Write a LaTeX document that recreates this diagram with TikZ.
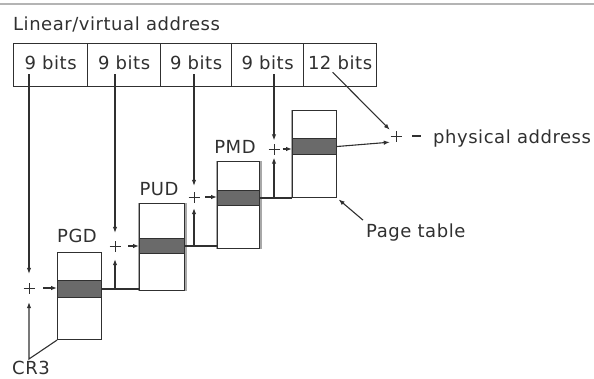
\documentclass[tikz,border=0pt]{standalone}
\usepackage{fontspec}
\setmainfont[LetterSpace=3]{DejaVu Sans}
\usetikzlibrary{arrows.meta,calc,backgrounds}
\definecolor{ink}{HTML}{303030}
\definecolor{bandfill}{HTML}{6A6A6A}
\definecolor{rulegray}{HTML}{B4B4B4}
\definecolor{edgegray}{HTML}{A8A8A8}
\begin{document}
\begin{tikzpicture}[x=1pt,y=-1pt,
  every node/.style={font=\fontsize{18}{20}\selectfont, text=ink},
  ln/.style={draw=ink, line width=1.1pt},
  arr/.style={ln, -{Latex[length=6pt,width=4.5pt]}},
  fieldbox/.style={draw=ink, line width=1.2pt, minimum height=43pt, inner sep=0, anchor=north west, text height=13pt, text depth=5pt},
  tablebox/.style={draw=ink, line width=1.1pt, fill=white, inner sep=0, minimum height=87pt, anchor=north west},
  bandbox/.style={draw=ink, fill=bandfill, line width=1pt, inner sep=0, anchor=north west},
  addnode/.style={inner sep=0, path picture={\draw[ink, line width=1pt]
     ([xshift=-5.5pt]path picture bounding box.center) -- ([xshift=5.5pt]path picture bounding box.center)
     ([yshift=-5.5pt]path picture bounding box.center) -- ([yshift=5.5pt]path picture bounding box.center);}},
  txt/.style={inner sep=0, anchor=base west},
  edgeshade/.style={draw=edgegray, line width=3pt},
]
\useasboundingbox (0,0) rectangle (594,378);
\draw[rulegray, line width=1.2pt] (0,4) -- (594,4);

% address
\node[txt] (lva) at (13,30) {Linear/virtual address};
\node[fieldbox, minimum width=74pt] (f1) at (13,43) {9 bits};
\node[fieldbox, minimum width=73pt] (f2) at (87,43) {9 bits};
\node[fieldbox, minimum width=71pt] (f3) at (160,43) {9 bits};
\node[fieldbox, minimum width=72pt] (f4) at (231,43) {9 bits};
\node[fieldbox, minimum width=73pt] (f5) at (303,43) {12 bits};

% tables
\node[tablebox, minimum width=44pt] (t1) at (57,252) {};
\node[bandbox, minimum width=44pt, minimum height=17pt] (b1) at (57,280) {};
\node[tablebox, minimum width=45pt] (t2) at (139,203) {};
\node[bandbox, minimum width=45pt, minimum height=15pt] (b2) at (139,238) {};
\node[tablebox, minimum width=42pt] (t3) at (217,161) {};
\node[bandbox, minimum width=42pt, minimum height=15pt] (b3) at (217,190) {};
\node[tablebox, minimum width=44pt] (t4) at (292,110) {};
\node[bandbox, minimum width=44pt, minimum height=16pt] (b4) at (292,138) {};

\begin{pgfonlayer}{background}
  \draw[edgeshade] (t2.north west) -- (t2.south west);
  \draw[edgeshade] (t2.north east) -- (t2.south east);
  \draw[edgeshade] (t3.north west) -- (t3.south west);
  \draw[edgeshade] (t3.north east) -- (t3.south east);
  \draw[edgeshade] (t4.north west) -- (t4.south west);
\end{pgfonlayer}

% table labels
\node[inner sep=0, anchor=base] (lpgd) at (77,242) {PGD};
\node[inner sep=0, anchor=base] (lpud) at (159,195) {PUD};
\node[inner sep=0, anchor=base] (lpmd) at (235,153) {PMD};

% adders
\node[addnode, minimum size=28pt] (p1) at (29,288) {};
\node[addnode, minimum size=26pt] (p2) at (115,246) {};
\node[addnode, minimum size=22pt] (p3) at (194,197) {};
\node[addnode, minimum size=17pt] (p4) at (274,149) {};
\node[addnode, minimum size=12pt] (pf) at (396,136) {};

% index arrows from the address fields
\draw[arr] ($(f1.south -| p1)+(0,-13)$) -- (p1.north);
\draw[arr] ($(f2.south -| p2)+(0,-13)$) -- (p2.north);
\draw[arr] ($(f3.south -| p3)+(0,-13)$) -- (p3.north);
\draw[arr] ($(f4.south -| p4)+(0,-13)$) -- (p4.north);
\draw[arr] ($(f5.south)+(-7.5,-15)$) -- (pf.north west);

% adders to tables
\draw[arr] (p1.east) -- (p1.east -| t1.west);
\draw[arr] (p2.east) -- (p2.east -| t2.west);
\draw[arr] (p3.east) -- (p3.east -| t3.west);
\draw[arr] (p4.east) -- (p4.east -| t4.west);

% base addresses from the previous level
\draw[ln] (b1.east) -- (b1.east -| t2.west);
\draw[ln] (b2.east) -- (b2.east -| t3.west);
\draw[ln] (b3.east) -- (b3.east -| t4.west);
\draw[arr] (b1.east -| p2) -- (p2.south);
\draw[arr] (b2.east -| p3) -- (p3.south);
\draw[arr] (b3.east -| p4) -- (p4.south);

% CR3
\coordinate (c3) at (29,359);
\draw[arr] (t1.south west) -- (c3) -- (p1.south);
\node[txt] (cr3) at (12,374) {CR3};

% physical address
\draw[arr] (b4.east) -- (pf.south west);
\draw[ink, line width=2.6pt] (412,136) -- (421,136);
\node[txt] (phys) at (433,143) {physical address};

% page table label
\node[txt] (ptl) at (366,237) {Page table};
\draw[arr, shorten >=2pt] ($(ptl.north west)+(-3,-3)$) -- (t4.south east);
\end{tikzpicture}
\end{document}
